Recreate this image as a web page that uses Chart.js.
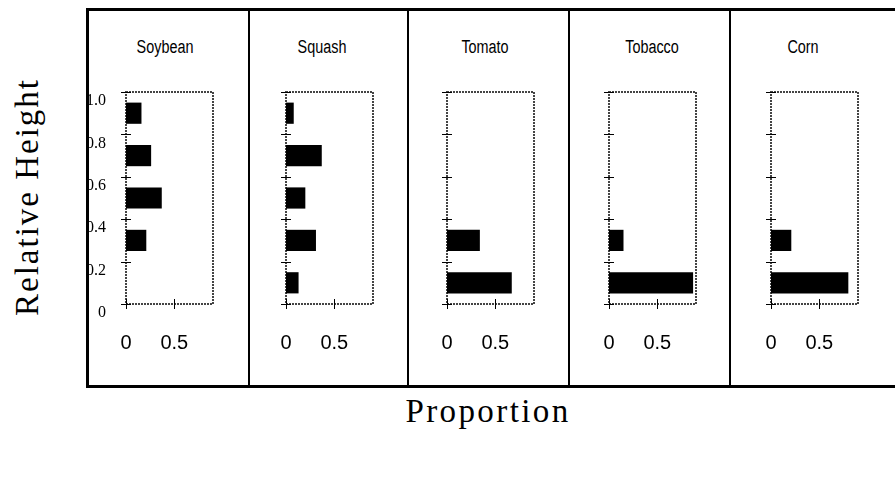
<!DOCTYPE html>
<html>
<head>
<meta charset="utf-8">
<script src="https://cdn.jsdelivr.net/npm/chart.js@4"></script>
<style>
  body { margin: 0; background: #fff; width: 895px; height: 481px; overflow: hidden; position: relative; }
  .frame { position: absolute; left: 86px; top: 8px; width: 830px; height: 380px; border: 3px solid #000; box-sizing: border-box; }
  .divider { position: absolute; top: 8px; width: 2px; height: 380px; background: #000; }
  canvas { position: absolute; top: 0; }
  .title { position: absolute; top: 37px; width: 120px; margin-left: -60px; text-align: center; font: 18px "Liberation Sans", sans-serif; color: #000; transform: scaleX(0.8); }
  .ylab { position: absolute; left: 27px; top: 197px; transform: translate(-50%, -50%) rotate(-90deg); white-space: nowrap; font: 33px "Liberation Serif", serif; letter-spacing: 2px; }
  .xlab { position: absolute; left: 488px; top: 411px; transform: translate(-50%, -50%); white-space: nowrap; font: 33px "Liberation Serif", serif; letter-spacing: 2.4px; }
</style>
</head>
<body>
<div class="frame"></div>
<div class="ylab">Relative Height</div>
<div class="xlab">Proportion</div>
<script>
// height classes (bin centres) shared by all panels
const heightBins = [0.1, 0.3, 0.5, 0.7, 0.9];
const crops = ["Soybean", "Squash", "Tomato", "Tobacco", "Corn"];

// proportion of plants in each height bin
const soybean = [0, 0.21, 0.37, 0.26, 0.16];
const squash  = [0.13, 0.31, 0.2, 0.37, 0.08];
const tomato  = [0.67, 0.34, 0, 0, 0];
const tobacco = [0.87, 0.15, 0, 0, 0];
const corn    = [0.8, 0.21, 0, 0, 0];

const yTicks = [0, 0.2, 0.4, 0.6, 0.8, 1.0];
const xTicks = [0, 0.5];
const xTickLabels = ["0", "0.5"];

const values = [soybean, squash, tomato, tobacco, corn];

// layout (page pixels)
const frameX = [87, 249, 408, 569, 730, 895];
const plotLeft = [126, 286, 447, 609, 771];
const titleX = [165, 322, 485, 652, 803];
const plotW = 87;
const plotTop = 92;
const plotBottom = 304;
const canvasH = 400;

const plotFrame = {
  id: "plotFrame",
  beforeDatasetsDraw(chart) {
    const ctx = chart.ctx;
    const a = chart.chartArea;
    const sx = chart.scales.x;
    const sy = chart.scales.y;
    ctx.save();
    ctx.strokeStyle = "#444";
    ctx.lineWidth = 2;
    ctx.setLineDash([2, 1]);
    ctx.strokeRect(a.left, a.top, a.right - a.left, a.bottom - a.top);
    ctx.setLineDash([]);
    ctx.strokeStyle = "#000";
    ctx.lineWidth = 1;
    ctx.beginPath();
    yTicks.forEach((v) => {
      const y = Math.round(sy.getPixelForValue(v)) + 0.5;
      ctx.moveTo(a.left - 5, y);
      ctx.lineTo(a.left + 5, y);
    });
    xTicks.forEach((v) => {
      const x = Math.round(sx.getPixelForValue(v)) + 0.5;
      ctx.moveTo(x, a.bottom - 5);
      ctx.lineTo(x, a.bottom + 5);
    });
    ctx.stroke();
    ctx.restore();
  },
};

crops.forEach((name, i) => {
  if (i > 0) {
    const d = document.createElement("div");
    d.className = "divider";
    d.style.left = (frameX[i] - 1) + "px";
    document.body.appendChild(d);
  }
  const t = document.createElement("div");
  t.className = "title";
  t.style.left = titleX[i] + "px";
  t.textContent = name;
  document.body.appendChild(t);

  const left = frameX[i] + 2;
  const width = frameX[i + 1] - frameX[i] - 3;
  const yW = plotLeft[i] - left;
  const canvas = document.createElement("canvas");
  canvas.width = width;
  canvas.height = canvasH;
  canvas.style.left = left + "px";
  canvas.style.width = width + "px";
  canvas.style.height = canvasH + "px";
  document.body.appendChild(canvas);

  new Chart(canvas.getContext("2d"), {
    type: "bar",
    data: {
      datasets: [{
        data: heightBins.map((h, k) => ({ x: values[i][k], y: h })),
        backgroundColor: "#000",
        borderWidth: 0,
        barPercentage: 0.5,
        categoryPercentage: 1.0,
      }],
    },
    options: {
      indexAxis: "y",
      responsive: false,
      animation: false,
      devicePixelRatio: 1,
      layout: { padding: { top: plotTop, left: 0, right: width - yW - plotW, bottom: 0 } },
      plugins: { legend: { display: false }, tooltip: { enabled: false } },
      scales: {
        x: {
          type: "linear",
          min: 0,
          max: 0.9,
          grid: { display: false },
          border: { display: false },
          afterBuildTicks: (s) => { s.ticks = xTicks.map((v) => ({ value: v })); },
          afterFit: (s) => { s.height = canvasH - plotBottom; },
          ticks: {
            padding: 19,
            color: "#000",
            font: { family: "'Liberation Sans', sans-serif", size: 20 },
            callback: (v) => xTickLabels[xTicks.indexOf(v)],
            maxRotation: 0,
          },
        },
        y: {
          type: "linear",
          min: 0,
          max: 1,
          offset: false,
          grid: { display: false, offset: false },
          border: { display: false },
          afterBuildTicks: (s) => { s.ticks = yTicks.map((v) => ({ value: v })); },
          afterFit: (s) => { s.width = yW; },
          ticks: {
            display: i === 0,
            padding: 12,
            labelOffset: 9,
            color: "#000",
            font: { family: "'Liberation Serif', serif", size: 16 },
            callback: (v) => (v === 0 ? "0" : v.toFixed(1)),
          },
        },
      },
    },
    plugins: [plotFrame],
  });
});
</script>
</body>
</html>
